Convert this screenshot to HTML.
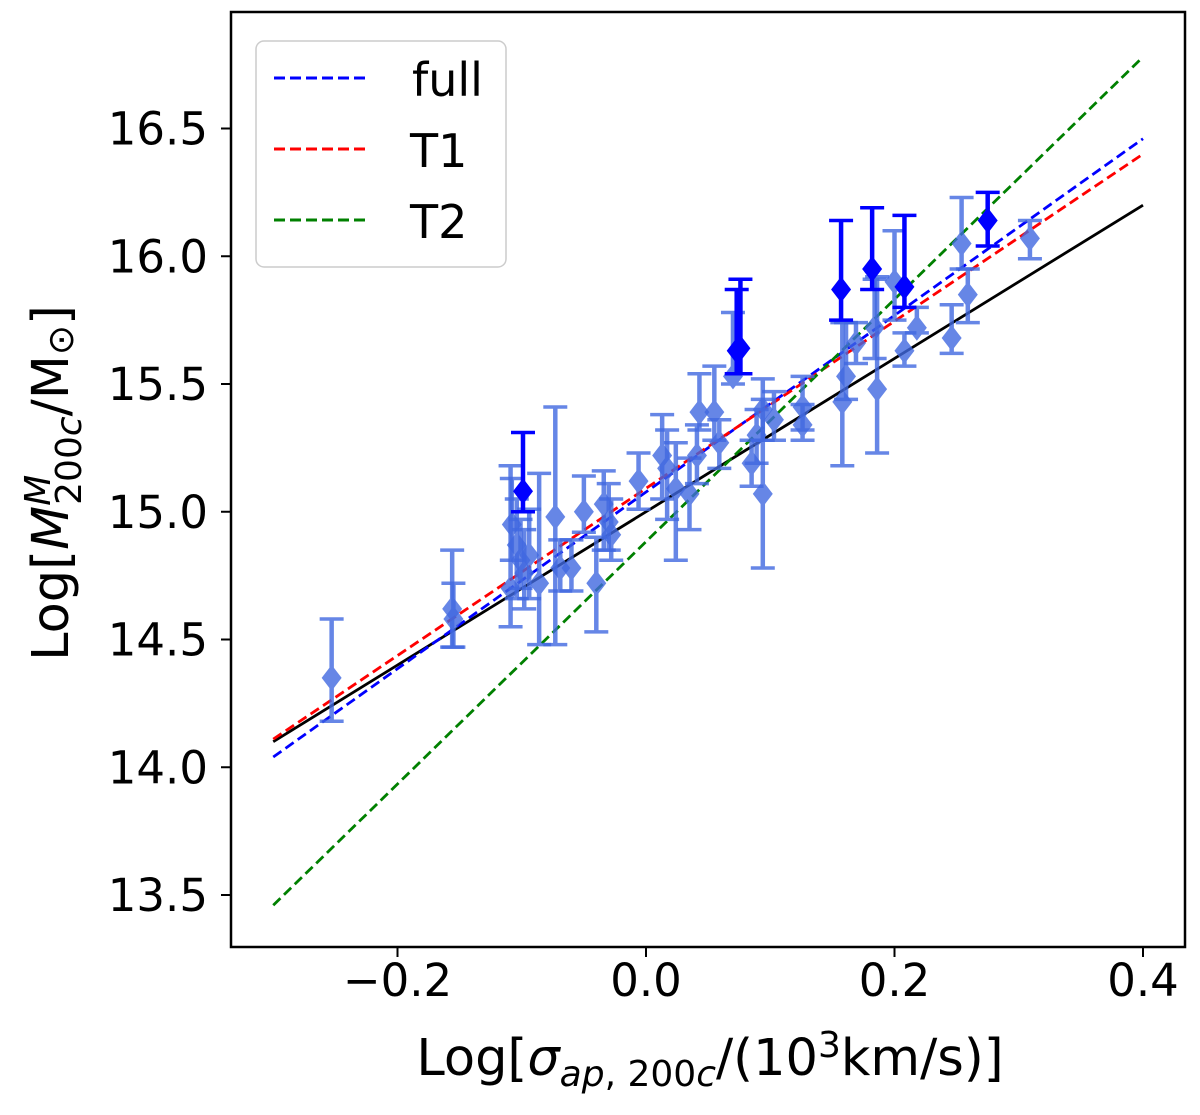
<!DOCTYPE html>
<html><head><meta charset="utf-8"><style>
html,body{margin:0;padding:0;background:#fff;}
svg{display:block;font-family:"DejaVu Sans","Liberation Sans",sans-serif;}
</style></head><body>
<svg id="chart" width="1200" height="1115" viewBox="0 0 1200 1115" xmlns="http://www.w3.org/2000/svg">
<rect x="0" y="0" width="1200" height="1115" fill="#fff"/>
<g id="fits"></g>
<g id="points"></g>
<rect x="231" y="12" width="954" height="935" fill="none" stroke="#000" stroke-width="2.5"/>
<g id="xticks"></g>
<g id="yticks"></g>
<text x="710" y="1075" font-size="51" text-anchor="middle">Log[<tspan font-style="italic">σ</tspan><tspan font-style="italic" font-size="36" dy="11">ap</tspan><tspan font-size="36">, 200</tspan><tspan font-style="italic" font-size="36">c</tspan><tspan dy="-11">/(10</tspan><tspan font-size="36" dy="-18">3</tspan><tspan dy="18">km/s)]</tspan></text>
<text transform="translate(68,483) rotate(-90)" font-size="51" text-anchor="middle">Log[<tspan font-style="italic">M</tspan><tspan font-style="italic" font-size="36" dy="-18">M</tspan><tspan font-size="36" dx="-30" dy="31">200</tspan><tspan font-style="italic" font-size="36">c</tspan><tspan dy="-13">/M</tspan><tspan font-size="36" dy="5">⊙</tspan><tspan dy="-5">]</tspan></text>
<g>
<rect x="256" y="41" width="250" height="226" rx="8" fill="#fff" fill-opacity="0.8" stroke="#ccc" stroke-width="1.5"/>
<line x1="274" y1="78" x2="370" y2="78" stroke="#0000ff" stroke-width="3" stroke-dasharray="11,5"/>
<text x="412" y="96" font-size="46">full</text>
<line x1="274" y1="149" x2="370" y2="149" stroke="#ff0000" stroke-width="3" stroke-dasharray="11,5"/>
<text x="410" y="167" font-size="46">T1</text>
<line x1="274" y1="220" x2="370" y2="220" stroke="#008000" stroke-width="3" stroke-dasharray="11,5"/>
<text x="410" y="238" font-size="46">T2</text>
</g>
</svg>
<script>
const NS="http://www.w3.org/2000/svg";
const xTicks=[-0.2,0.0,0.2,0.4];
const xTickLabels=["−0.2","0.0","0.2","0.4"];
const yTicks=[13.5,14.0,14.5,15.0,15.5,16.0,16.5];
const yTickLabels=["13.5","14.0","14.5","15.0","15.5","16.0","16.5"];
const fitNames=["black","full","T1","T2"];
const fitX0=[-0.3,-0.3,-0.3,-0.3];
const fitX1=[0.4,0.4,0.4,0.4];
const fitY0=[14.10,14.04,14.11,13.46];
const fitY1=[16.20,16.46,16.40,16.78];
const ptX=[-0.253,-0.156,-0.155,-0.099,-0.109,-0.108,-0.104,-0.101,-0.094,-0.098,-0.073,-0.086,-0.050,-0.069,-0.060,-0.040,-0.034,-0.030,-0.028,-0.006,0.013,0.024,0.017,0.035,0.043,0.055,0.059,0.041,0.070,0.076,0.073,0.094,0.103,0.089,0.085,0.094,0.126,0.126,0.161,0.158,0.157,0.169,0.186,0.182,0.184,0.208,0.200,0.218,0.208,0.246,0.259,0.254,0.275,0.309];
const ptY=[14.35,14.62,14.58,15.08,14.70,14.95,14.87,14.81,14.83,14.76,14.98,14.72,15.00,14.78,14.78,14.72,15.03,14.96,14.91,15.12,15.22,15.09,15.17,15.07,15.39,15.39,15.27,15.22,15.53,15.64,15.63,15.40,15.36,15.30,15.19,15.07,15.41,15.34,15.53,15.43,15.87,15.66,15.48,15.95,15.72,15.88,15.90,15.72,15.63,15.68,15.85,16.05,16.14,16.07];
const ptHi=[14.58,14.85,14.72,15.31,15.18,15.13,15.05,14.97,15.01,14.93,15.41,15.15,15.14,14.89,14.89,14.90,15.16,15.11,15.05,15.23,15.38,15.27,15.32,15.21,15.54,15.57,15.36,15.34,15.78,15.91,15.87,15.52,15.47,15.40,15.28,15.44,15.53,15.42,15.74,15.74,16.14,15.74,15.92,16.19,15.91,16.16,16.10,15.80,15.70,15.81,15.95,16.23,16.25,16.14];
const ptLo=[14.18,14.47,14.47,15.00,14.55,14.81,14.66,14.70,14.66,14.62,14.48,14.48,14.92,14.69,14.69,14.53,14.85,14.85,14.81,15.01,15.05,14.81,14.97,14.93,15.32,15.28,15.17,15.11,15.50,15.54,15.54,15.28,15.28,15.19,15.10,14.78,15.32,15.28,15.44,15.18,15.75,15.58,15.23,15.87,15.60,15.80,15.75,15.70,15.57,15.62,15.74,15.95,16.04,15.99];
const ptDark=[0,0,0,1,0,0,0,0,0,0,0,0,0,0,0,0,0,0,0,0,0,0,0,0,0,0,0,0,0,1,1,0,0,0,0,0,0,0,0,0,1,0,0,1,0,1,0,0,0,0,0,0,1,0];

function sx(v){return 646+v*1242.5;}
function sy(v){return 895-(v-13.5)*255.5;}
function mk(tag,attrs,parent){const e=document.createElementNS(NS,tag);for(const k in attrs)e.setAttribute(k,attrs[k]);parent.appendChild(e);return e;}

const xg=document.getElementById('xticks');
xTicks.forEach((t,i)=>{
  const l=mk('line',{x1:sx(t),x2:sx(t),y1:947,y2:957,stroke:'#000','stroke-width':2},xg);
  
  
  const tx=mk('text',{x:sx(t),y:996,'font-size':45,'text-anchor':'middle'},xg);
  tx.textContent=xTickLabels[i];
  
  
});
const yg=document.getElementById('yticks');
yTicks.forEach((t,i)=>{
  const l=mk('line',{x1:221,x2:231,y1:sy(t),y2:sy(t),stroke:'#000','stroke-width':2},yg);
  
  
  const tx=mk('text',{x:208,y:sy(t)+16,'font-size':45,'text-anchor':'end'},yg);
  tx.textContent=yTickLabels[i];
  
  
});

const fg=document.getElementById('fits');
const fitColors={black:'#000',full:'#0000ff',T1:'#ff0000',T2:'#008000'};
fitNames.forEach((n,i)=>{
  const a={x1:sx(fitX0[i]),y1:sy(fitY0[i]),x2:sx(fitX1[i]),y2:sy(fitY1[i]),stroke:fitColors[n],'stroke-width':2.8};
  if(n!=='black')a['stroke-dasharray']='10,5';
  const l=mk('line',a,fg);
  
  
});

const pg=document.getElementById('points');
const order=ptX.map((_,i)=>i).sort((a,b)=>ptDark[a]-ptDark[b]);
order.forEach(i=>{
  const c=ptDark[i]?'#0000ff':'#4169e1';
  const op=ptDark[i]?1:0.8;
  const g=mk('g',{opacity:op},pg);
  
  
  const x=sx(ptX[i]),y=sy(ptY[i]),yh=sy(ptHi[i]),yl=sy(ptLo[i]);
  mk('line',{x1:x,x2:x,y1:yh,y2:yl,stroke:c,'stroke-width':4.5},g);
  mk('line',{x1:x-12,x2:x+12,y1:yh,y2:yh,stroke:c,'stroke-width':3.5},g);
  mk('line',{x1:x-12,x2:x+12,y1:yl,y2:yl,stroke:c,'stroke-width':3.5},g);
  mk('path',{d:`M${x},${y-13}L${x+10},${y}L${x},${y+13}L${x-10},${y}Z`,fill:c},g);
});
</script>
</body></html>
